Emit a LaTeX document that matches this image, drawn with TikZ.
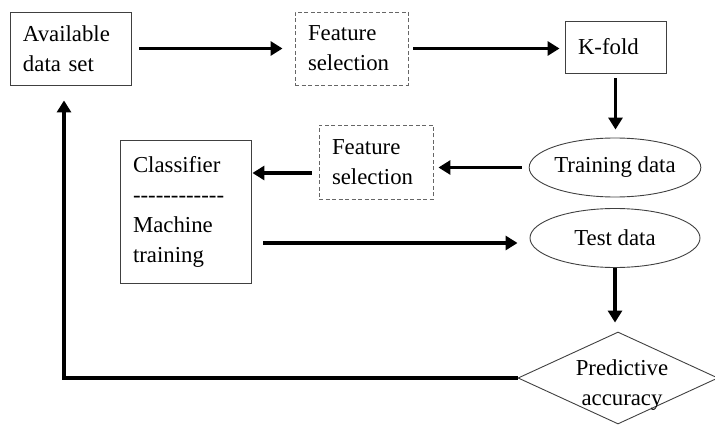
\documentclass[tikz,border=0pt]{standalone}
\usepackage{fontspec}
\setmainfont{Liberation Serif}
\newfontfamily\plainserif{Liberation Serif}
\usetikzlibrary{arrows.meta,shapes.geometric,calc}
\tikzset{
  txt/.style={font=\fontsize{22.8}{30}\selectfont},
  box/.style={txt, draw=black!75, line width=0.9pt, inner xsep=13pt, inner ysep=0pt, align=left},
  dbox/.style={box, draw=black!60, dash pattern=on 4pt off 2.5pt},
  oval/.style={txt, ellipse, draw=black!75, line width=0.9pt, minimum width=170pt, minimum height=59pt, inner sep=0pt},
  arr/.style={line width=3.4pt, -{Triangle[length=12pt,width=14pt]}},
}
\begin{document}
\begin{tikzpicture}[x=1pt,y=-1pt]
\useasboundingbox (0,0) rectangle (715,425);
\node[box, text width=95pt, minimum height=73pt] (ads) at (70.5,48.5) {Available\\data set};
\node[dbox, text width=87pt, minimum height=73pt] (fs1) at (351.5,48.5) {Feature\\selection};
\node[box, text width=75pt, minimum height=52pt] (kf) at (615.5,47) {K-fold};
\node[oval] (tr) at (615,167.5) {Training data};
\node[dbox, text width=88pt, minimum height=74pt] (fs2) at (376,162) {Feature\\selection};
\node[box, text width=105pt, minimum height=143pt] (cl) at (185.5,211.5) {Classifier\\{\plainserif ------------}\\Machine\\training};
\node[oval] (te) at (615,238) {Test data};
\node[diamond, draw=black!75, line width=0.9pt, minimum width=200pt, minimum height=92pt, inner sep=0pt] (pa) at (618,378) {};
\node[txt, align=center] (pat) at (622,385) {Predictive\\accuracy};
\coordinate (fb) at (64,378);

\draw[arr, shorten <=8pt, shorten >=12pt] (ads.east) -- (fs1.west);
\draw[arr, shorten <=5pt, shorten >=5pt] (fs1.east) -- (fs1.east -| kf.west);
\draw[arr, shorten <=5pt, shorten >=8pt] (kf.south) -- (kf.south |- tr.north);
\draw[arr, shorten <=7pt, shorten >=5pt] (tr.west) -- (tr.west -| fs2.east);
\draw[arr, shorten <=7pt, shorten >=1pt] ($(fs2.west)+(0,11)$) -- ($(fs2.west -| cl.east)+(0,11)$);
\draw[arr, shorten <=12pt, shorten >=12pt] ($(cl.east |- te.west)+(0,5)$) -- ($(te.west)+(0,5)$);
\draw[arr, shorten >=9pt] (te.south) -- (te.south |- pa.north);
\draw[arr, shorten >=15pt] (pa.west) -- (fb) -- (fb |- ads.south);
\end{tikzpicture}
\end{document}
